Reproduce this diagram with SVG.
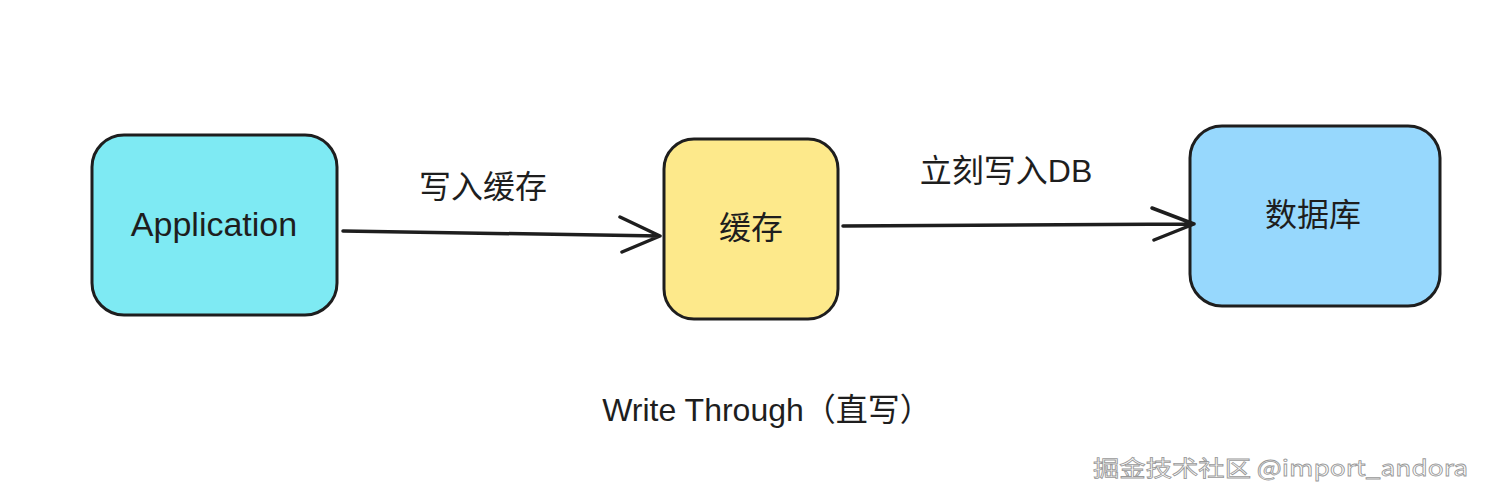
<svg xmlns="http://www.w3.org/2000/svg" width="1486" height="498" viewBox="0 0 1486 498">
<defs>
<style>
.box{stroke:#1e1e1e;stroke-width:3}
.t{font-family:"Liberation Sans","Noto Sans CJK SC",sans-serif;fill:#1e1e1e}
.c{stroke:#1e1e1e;stroke-width:3.5;fill:none;stroke-linecap:round;stroke-linejoin:round}
.wm{font-family:"Noto Sans CJK SC",sans-serif;font-size:22px;fill:#fff;stroke:#999;stroke-width:0.8}
</style>
</defs>
<rect width="1486" height="498" fill="#fff"/>
<g id="app"><rect class="box" x="92" y="135" width="245" height="180" rx="32" fill="#7eeaf3"/><text class="t" x="214" y="236" font-size="34" text-anchor="middle">Application</text></g>
<g id="cache"><rect class="box" x="664" y="139" width="174" height="180" rx="30" fill="#fde98b"/><text class="t" x="751" y="239" font-size="32" text-anchor="middle">缓存</text></g>
<g id="db"><rect class="box" x="1190" y="126" width="250" height="180" rx="32" fill="#97d8fd"/><text class="t" x="1313" y="226" font-size="32" text-anchor="middle">数据库</text></g>
<g id="connectors">
<path class="c" d="M343 231 L660 236 M620 217 L660 236 L622 252"/>
<path class="c" d="M843 226 L1194 224 M1152 208 L1194 224 L1154 240"/>
</g>
<text class="t" x="483" y="198" font-size="32" text-anchor="middle">写入缓存</text>
<text class="t" x="1006" y="182" font-size="32" text-anchor="middle">立刻写入DB</text>
<text class="t" x="767" y="421" font-size="32" text-anchor="middle">Write Through（直写）</text>
<text class="wm" x="1093" y="476" textLength="375" lengthAdjust="spacingAndGlyphs">掘金技术社区 @import_andora</text>
</svg>
